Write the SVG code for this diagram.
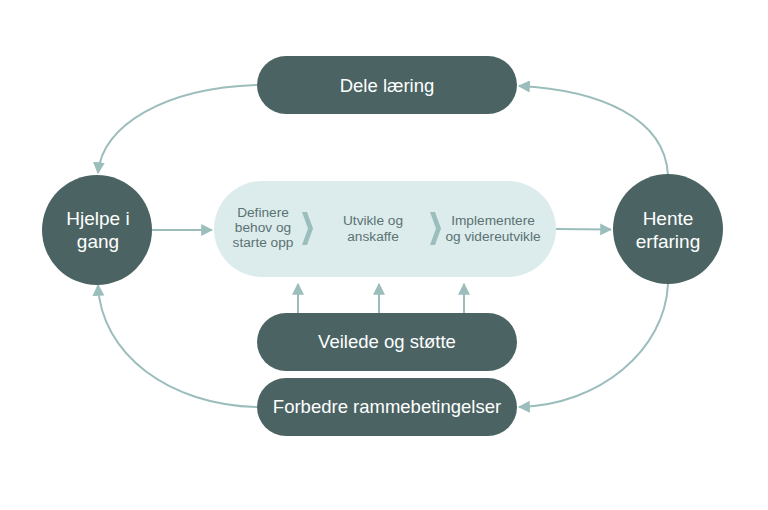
<svg xmlns="http://www.w3.org/2000/svg" width="768" height="510" viewBox="0 0 768 510">
<style>
.node{fill:#4b6463}
.nt{fill:#ffffff;font-family:"Liberation Sans",Arial,sans-serif;font-size:18.5px;text-anchor:middle}
.ct{font-size:19px}
.st{fill:#5b7272;font-family:"Liberation Sans",Arial,sans-serif;font-size:13.7px;text-anchor:middle}
.c{fill:none;stroke:#9bbdbc;stroke-width:2}
.chev{fill:#9bbdbc}
</style>
<defs>
<marker id="ah" viewBox="0 0 10 10" refX="9" refY="5" markerWidth="6" markerHeight="6" orient="auto" markerUnits="strokeWidth">
<path d="M0,0 L10,5 L0,10 z" fill="#9bbdbc"/>
</marker>
</defs>
<rect width="768" height="510" fill="#ffffff"/>
<g id="connectors">
<path class="c" d="M257,85 C165,88 102,125 98,173" marker-end="url(#ah)"/>
<path class="c" d="M668,175 C665,118 600,90 519,86" marker-end="url(#ah)"/>
<path class="c" d="M257,407 C170,405 101,355 98,285" marker-end="url(#ah)"/>
<path class="c" d="M668,284 C665,350 600,405 519,407" marker-end="url(#ah)"/>
<path class="c" d="M152,230 L212,230" marker-end="url(#ah)"/>
<path class="c" d="M556,229 L611,229.5" marker-end="url(#ah)"/>
<path class="c" d="M298,313 L298,284" marker-end="url(#ah)"/>
<path class="c" d="M379,313 L379,284" marker-end="url(#ah)"/>
<path class="c" d="M464,313 L464,284" marker-end="url(#ah)"/>
</g>
<g id="process">
<rect x="214" y="181" width="342" height="96" rx="48" fill="#dcecec"/>
<polygon class="chev" points="302,212 307,212 313,228.5 307,245 302,245 308,228.5"/>
<polygon class="chev" points="430,212 435,212 441,228.5 435,245 430,245 436,228.5"/>
<text class="st" x="263" y="217">Definere</text>
<text class="st" x="263" y="232">behov og</text>
<text class="st" x="263" y="247">starte opp</text>
<text class="st" x="373" y="225">Utvikle og</text>
<text class="st" x="373" y="241">anskaffe</text>
<text class="st" x="493" y="225">Implementere</text>
<text class="st" x="493" y="241">og videreutvikle</text>
</g>
<g id="dele">
<rect class="node" x="257" y="56" width="260" height="58" rx="29"/>
<text class="nt" x="387" y="92">Dele læring</text>
</g>
<g id="hjelpe">
<circle class="node" cx="97" cy="230" r="55"/>
<text class="nt ct" x="98" y="225">Hjelpe i</text>
<text class="nt ct" x="98" y="248">gang</text>
</g>
<g id="hente">
<circle class="node" cx="668" cy="229" r="55"/>
<text class="nt ct" x="668" y="225">Hente</text>
<text class="nt ct" x="668" y="248">erfaring</text>
</g>
<g id="veilede">
<rect class="node" x="257" y="313" width="260" height="58" rx="29"/>
<text class="nt" x="387" y="348">Veilede og støtte</text>
</g>
<g id="forbedre">
<rect class="node" x="257" y="378" width="260" height="58" rx="29"/>
<text class="nt" x="387" y="413">Forbedre rammebetingelser</text>
</g>
</svg>
